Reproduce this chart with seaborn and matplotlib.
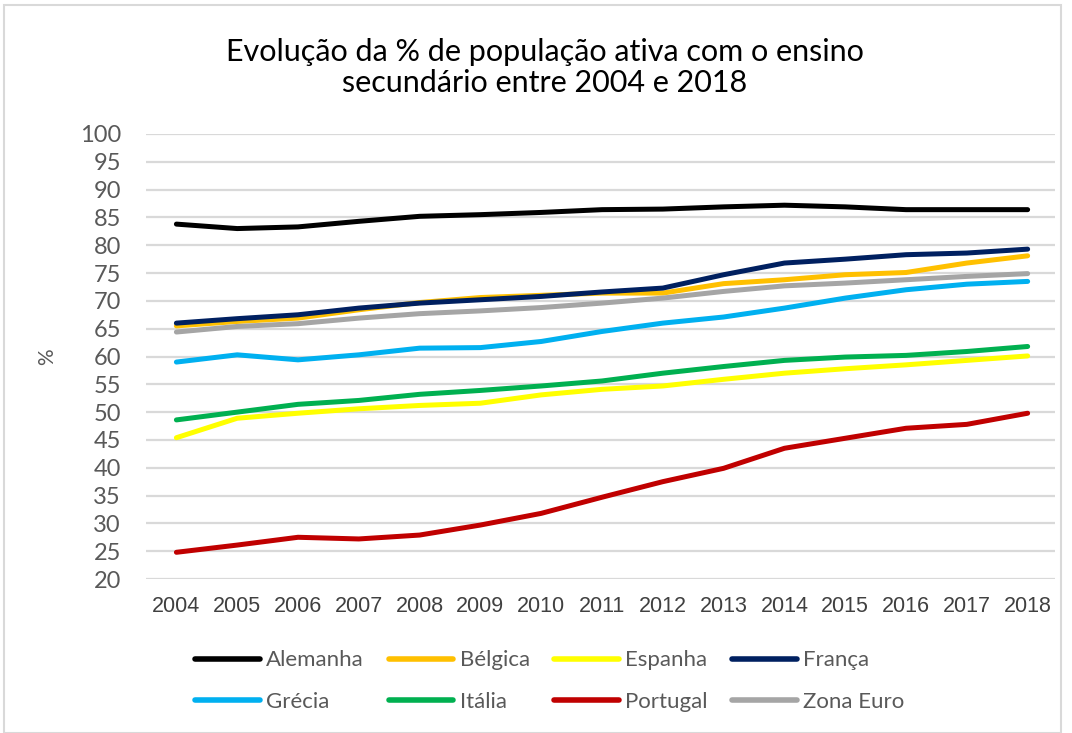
import pandas as pd
import seaborn as sns
import matplotlib.pyplot as plt
from matplotlib.patches import Rectangle

years = list(range(2004, 2019))

alemanha = [83.8, 83.0, 83.3, 84.3, 85.2, 85.5, 85.9, 86.4, 86.5, 86.9, 87.2, 86.9, 86.4, 86.4, 86.4]
belgica = [65.5, 66.3, 66.9, 68.4, 69.7, 70.6, 71.0, 71.4, 71.4, 73.1, 73.8, 74.7, 75.1, 76.8, 78.1]
espanha = [45.4, 48.9, 49.8, 50.6, 51.2, 51.6, 53.1, 54.1, 54.7, 55.9, 57.0, 57.8, 58.5, 59.3, 60.1]
franca = [66.0, 66.8, 67.5, 68.7, 69.6, 70.2, 70.8, 71.6, 72.3, 74.7, 76.8, 77.5, 78.3, 78.6, 79.3]
grecia = [59.0, 60.3, 59.4, 60.3, 61.5, 61.6, 62.7, 64.5, 66.0, 67.1, 68.7, 70.5, 72.0, 73.0, 73.5]
italia = [48.6, 50.0, 51.4, 52.1, 53.2, 53.9, 54.7, 55.6, 57.0, 58.2, 59.3, 59.9, 60.2, 60.9, 61.8]
portugal = [24.8, 26.1, 27.5, 27.2, 27.9, 29.7, 31.8, 34.7, 37.5, 39.9, 43.5, 45.3, 47.1, 47.8, 49.8]
zona_euro = [64.4, 65.4, 65.9, 66.9, 67.7, 68.2, 68.8, 69.6, 70.5, 71.7, 72.7, 73.2, 73.8, 74.4, 74.9]

series = {
    "Alemanha": alemanha,
    "Bélgica": belgica,
    "Espanha": espanha,
    "França": franca,
    "Grécia": grecia,
    "Itália": italia,
    "Portugal": portugal,
    "Zona Euro": zona_euro,
}
colors = ["#000000", "#FFC000", "#FFFF00", "#002060", "#00B0F0", "#00B050", "#C00000", "#A5A5A5"]

rows = []
for name, vals in series.items():
    for y, v in zip(years, vals):
        rows.append({"Ano": y, "Valor": v, "País": name})
df = pd.DataFrame(rows)

sns.set_style("white")
plt.rcParams["font.family"] = ["Lato", "DejaVu Sans"]

fig = plt.figure(figsize=(10.72, 7.33), dpi=100)
ax = fig.add_axes([146 / 1072, 1 - 579 / 733, (1055 - 146) / 1072, (579 - 134) / 733])

sns.lineplot(data=df, x="Ano", y="Valor", hue="País", palette=colors, linewidth=3.6,
             ax=ax, legend=False, solid_capstyle="round")

ax.set_ylim(20, 100)
ax.set_yticks(range(20, 101, 5))
ax.set_xlim(2003.5, 2018.45)
ax.set_xticks(years)
ax.set_xticklabels([str(y) for y in years], fontfamily="Liberation Sans", fontsize=15.5, color="#404040")
ax.tick_params(axis="y", labelsize=17, labelcolor="#595959", length=0, pad=18)
ax.tick_params(axis="x", length=0, pad=12)
ax.grid(axis="y", color="#D9D9D9", linewidth=1.6)
ax.set_axisbelow(True)
for s in ax.spines.values():
    s.set_visible(False)
ax.set_xlabel("")
ax.set_ylabel("%", fontsize=15, color="#595959")
ax.yaxis.set_label_coords(-0.098, 0.5)

fig.text(0.508, 0.908, "Evolução da % de população ativa com o ensino\nsecundário entre 2004 e 2018",
         ha="center", va="center", fontsize=22, color="#000000", linespacing=1.12)

names = list(series.keys())
order = [0, 4, 1, 5, 2, 6, 3, 7]
handles = [plt.Line2D([], [], color=colors[i], linewidth=4, solid_capstyle="round") for i in order]
fig.legend(handles, [names[i] for i in order], ncol=4, loc="center", bbox_to_anchor=(0.513, 0.071),
           frameon=False, fontsize=16, labelcolor="#595959", handlelength=2.9,
           handletextpad=0.3, columnspacing=1.1, labelspacing=0.95)

fig.patches.append(Rectangle((0.004, 0.0), 0.986, 0.993, transform=fig.transFigure,
                             fill=False, edgecolor="#D9D9D9", linewidth=1.5))

fig.savefig("out.png", dpi=100)
